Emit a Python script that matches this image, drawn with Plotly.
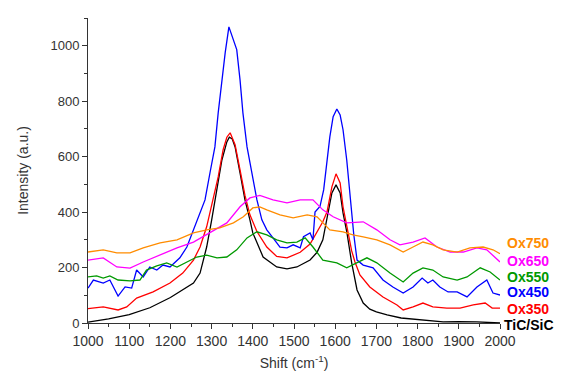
import plotly.graph_objects as go

# TiC/SiC (black)
tic_x = [1000,1050,1100,1150,1200,1230,1256,1272,1288,1300,1313,1325,1337,1343,1350,1357,1369,1381,1393,1400,1425,1458,1483,1507,1539,1556,1570,1580,1592,1602,1612,1619,1628,1640,1653,1668,1684,1700,1726,1760,1806,1862,1900,1944,2000]
tic_y = [3,15,30,55,92,119,144,180,274,370,491,588,653,670,664,635,541,444,372,325,238,202,195,202,227,255,300,383,469,498,469,397,330,217,119,72,50,40,29,18,11,4,5,4,0]

# Ox350 (red)
ox350_x = [1000,1037,1073,1094,1118,1158,1199,1230,1256,1272,1288,1303,1316,1328,1337,1345,1357,1369,1381,1393,1410,1434,1458,1483,1515,1539,1556,1570,1580,1592,1602,1612,1619,1628,1640,1648,1660,1684,1716,1750,1765,1789,1813,1837,1871,1903,1935,1964,1981,2000]
ox350_y = [52,58,47,58,90,112,144,180,227,274,347,440,527,625,670,686,643,552,460,390,330,274,240,235,255,285,330,365,400,491,538,505,419,350,260,220,173,130,94,65,47,58,72,58,54,54,65,72,54,54]

# Ox450 (blue)
ox450_x = [1000,1013,1037,1053,1073,1090,1106,1118,1134,1150,1167,1182,1199,1211,1223,1240,1256,1272,1284,1296,1308,1316,1325,1333,1342,1352,1361,1369,1376,1386,1398,1410,1422,1434,1449,1466,1483,1498,1515,1523,1539,1546,1551,1563,1572,1580,1587,1595,1604,1612,1619,1628,1636,1645,1653,1668,1692,1716,1740,1765,1789,1811,1825,1837,1854,1874,1896,1920,1944,1968,1983,2000]
ox450_y = [126,155,144,155,97,130,126,191,166,202,191,209,202,220,235,274,336,395,444,541,635,758,877,975,1068,1022,986,877,758,635,541,444,372,336,307,274,271,282,271,311,325,300,400,420,480,578,671,744,772,750,697,588,455,320,227,209,199,155,130,108,130,162,144,155,130,112,112,94,130,155,108,101]

# Ox550 (green)
ox550_x = [1000,1021,1037,1053,1073,1102,1126,1142,1167,1191,1216,1240,1264,1288,1313,1337,1361,1386,1410,1434,1458,1483,1507,1527,1546,1570,1604,1628,1653,1677,1701,1733,1765,1789,1813,1837,1862,1896,1920,1952,1976,2000]
ox550_y = [166,170,162,170,155,152,155,191,206,217,202,220,238,245,235,238,264,307,329,318,300,289,292,307,274,227,217,199,217,235,217,180,148,180,199,191,166,155,166,199,184,155]

# Ox650 (magenta)
ox650_x = [1000,1037,1070,1102,1134,1175,1216,1256,1296,1337,1369,1393,1417,1449,1483,1515,1546,1570,1595,1628,1668,1701,1733,1757,1789,1818,1847,1879,1911,1944,1968,1993,2000]
ox650_y = [227,235,202,198,220,245,271,292,325,361,419,451,460,444,433,444,444,408,383,361,365,336,300,282,292,307,274,256,256,271,264,227,220]

# Ox750 (orange)
ox750_x = [1000,1037,1070,1102,1134,1175,1216,1256,1288,1320,1353,1377,1400,1417,1434,1466,1498,1532,1556,1570,1587,1619,1643,1668,1701,1733,1765,1789,1813,1837,1862,1896,1927,1959,1983,2000]
ox750_y = [256,264,253,253,271,289,300,325,336,343,361,383,415,419,408,390,379,390,383,361,336,329,318,311,300,282,256,274,292,282,264,256,271,274,264,250]

names = ["TiC/SiC", "Ox350", "Ox450", "Ox550", "Ox650", "Ox750"]
colors = ["#000000", "#FF0000", "#0000FF", "#009900", "#FF00FF", "#FF8C00"]
xs = [tic_x, ox350_x, ox450_x, ox550_x, ox650_x, ox750_x]
ys = [tic_y, ox350_y, ox450_y, ox550_y, ox650_y, ox750_y]
label_y = [-7, 51, 112, 166, 224, 289]

YMAX = 1100
fig = go.Figure()
for n, c, x, y in zip(names, colors, xs, ys):
    fig.add_trace(go.Scatter(x=x, y=y, mode="lines", name=n,
                             line=dict(color=c, width=1.3), showlegend=False))

for n, c, ly in zip(names, colors, label_y):
    fig.add_annotation(x=1.012 if n != "TiC/SiC" else 1.006, y=ly / YMAX,
                       xref="paper", yref="paper",
                       text="<b>%s</b>" % n, showarrow=False, xanchor="left",
                       yanchor="middle",
                       font=dict(family="Liberation Sans, Arial", size=14, color=c))

axis_font = dict(family="Liberation Sans, Arial", size=13, color="#333333")
fig.update_xaxes(range=[1000, 2000], tickmode="linear", tick0=1000, dtick=100,
                 ticks="outside", ticklen=5, tickcolor="#333", showline=True,
                 linecolor="#333", linewidth=1, showgrid=False, zeroline=False,
                 automargin=False,
                 tickfont=dict(family="Liberation Sans, Arial", size=14, color="#333"),
                 minor=dict(ticks="outside", ticklen=3, dtick=50, tickcolor="#333"),
                 title=dict(text="Shift (cm<sup>-1</sup>)", font=dict(family="Liberation Sans, Arial", size=14, color="#333"), standoff=10))
fig.update_yaxes(range=[0, YMAX], tickmode="linear", tick0=0, dtick=200,
                 ticks="outside", ticklen=5, tickcolor="#333", showline=True,
                 linecolor="#333", linewidth=1, showgrid=False, zeroline=False,
                 automargin=False,
                 tickfont=axis_font,
                 minor=dict(ticks="outside", ticklen=3, dtick=100, tickcolor="#333"),
                 title=dict(text="Intensity (a.u.)", font=dict(family="Liberation Sans, Arial", size=14, color="#333"), standoff=18))

# page body has an 8px default margin; figure sized to fill the remaining window
fig.update_layout(width=555, height=366, margin=dict(l=80, r=63, t=10, b=51),
                  plot_bgcolor="white", paper_bgcolor="white")
fig.write_html("out.html")
